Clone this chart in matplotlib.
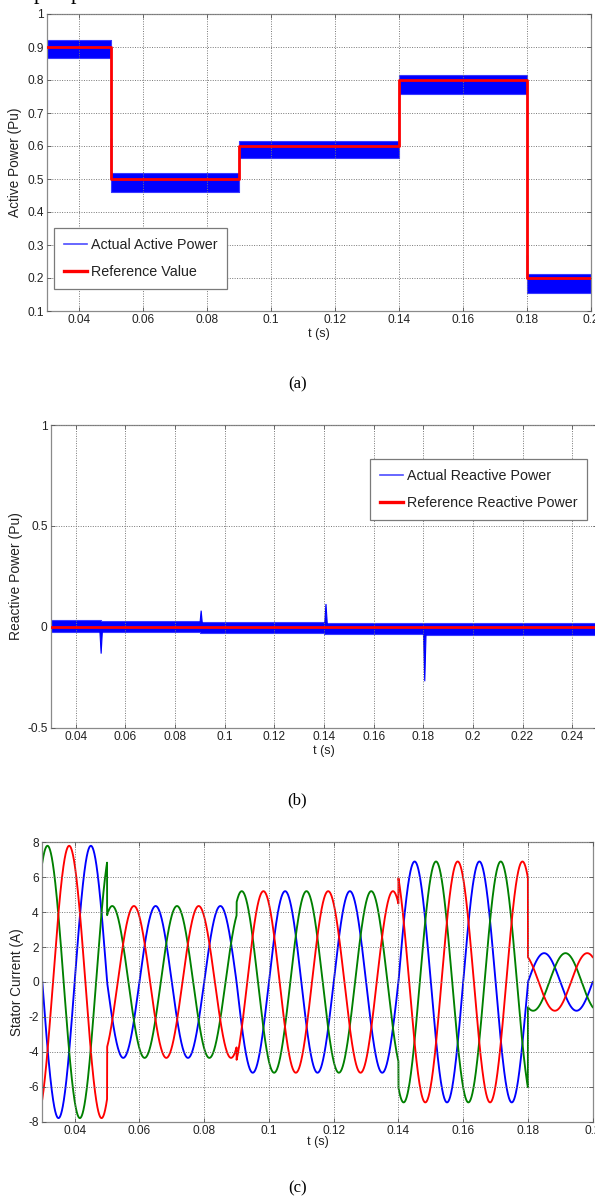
import matplotlib
matplotlib.use('Agg')
import matplotlib.pyplot as plt
import numpy as np
from matplotlib.lines import Line2D

plt.rcParams['font.family'] = ['Liberation Sans', 'DejaVu Sans']

# ---------------- data ----------------
# (a) active power
p_edges = [0.03, 0.05, 0.09, 0.14, 0.18, 0.20]
p_ref = [0.9, 0.5, 0.6, 0.8, 0.2]
p_low = [0.866, 0.460, 0.563, 0.757, 0.155]
p_high = [0.921, 0.518, 0.615, 0.815, 0.213]
p_spike_t = [0.0501, 0.1801]
p_spike_base = [0.50, 0.20]
p_spike_top = [0.625, 0.27]
p_xticks = [0.04, 0.06, 0.08, 0.10, 0.12, 0.14, 0.16, 0.18, 0.20]
p_xlabels = ['0.04', '0.06', '0.08', '0.1', '0.12', '0.14', '0.16', '0.18', '0.2']
p_yticks = [0.1, 0.2, 0.3, 0.4, 0.5, 0.6, 0.7, 0.8, 0.9, 1.0]
p_ylabels = ['0.1', '0.2', '0.3', '0.4', '0.5', '0.6', '0.7', '0.8', '0.9', '1']

# (b) reactive power
q_edges = [0.03, 0.05, 0.09, 0.14, 0.18, 0.25]
q_ref = [0.0, 0.0, 0.0, 0.0, 0.0]
q_low = [-0.024, -0.027, -0.032, -0.036, -0.040]
q_high = [0.032, 0.028, 0.024, 0.021, 0.019]
q_spike_t = [0.0502, 0.0905, 0.1408, 0.1806]
q_spike_v = [-0.133, 0.08, 0.113, -0.27]
q_xticks = [0.04, 0.06, 0.08, 0.10, 0.12, 0.14, 0.16, 0.18, 0.20, 0.22, 0.24]
q_xlabels = ['0.04', '0.06', '0.08', '0.1', '0.12', '0.14', '0.16', '0.18', '0.2', '0.22', '0.24']
q_yticks = [-0.5, 0.0, 0.5, 1.0]
q_ylabels = ['-0.5', '0', '0.5', '1']

# (c) stator currents (three phases, 50 Hz, amplitude per segment)
c_edges = [0.03, 0.05, 0.09, 0.14, 0.18, 0.20]
c_amp = [7.8, 4.35, 5.2, 6.9, 1.65]
c_freq = 50.0
c_peak_time = [0.0450, 0.0316, 0.0383]      # blue, green, red first peak
c_colors = ['#0000ff', '#008000', '#ff0000']
c_yticks = [-8, -6, -4, -2, 0, 2, 4, 6, 8]
c_ylabels = ['-8', '-6', '-4', '-2', '0', '2', '4', '6', '8']

# ---------------- style helpers ----------------
W, H = 595, 1200
fig = plt.figure(figsize=(W / 100, H / 100), dpi=100)


def px_axes(left, top, right, bottom):
    return fig.add_axes([left / W, 1 - bottom / H, (right - left) / W, (bottom - top) / H])


def style(ax):
    for s in ax.spines.values():
        s.set_color('#8a8a8a')
        s.set_linewidth(0.9)
    ax.tick_params(direction='in', length=3, width=0.6, color='#555555',
                   top=True, right=True, labelsize=8.6, labelcolor='#222222', pad=2.5)
    ax.grid(True, linestyle=(0, (1, 1.5)), color='#777777', linewidth=0.7)
    ax.set_axisbelow(False)


BLUE = '#0000ff'
RED = '#ff0000'
TICKC = '#222222'

# ---------------- (a) ----------------
axa = px_axes(47, 14, 591, 311)
style(axa)
axa.fill_between(p_edges, p_low + [p_low[-1]], p_high + [p_high[-1]], step='post',
                 color=BLUE, linewidth=0.8, edgecolor='#3a3aff', zorder=2)
axa.vlines(p_spike_t, p_spike_base, p_spike_top, color=BLUE, linewidth=1.0, zorder=2)
axa.step(p_edges, p_ref + [p_ref[-1]], where='post', color=RED, linewidth=2.0, zorder=3)
axa.set_xlim(0.03, 0.20)
axa.set_ylim(0.1, 1.0)
axa.set_xticks(p_xticks, p_xlabels)
axa.set_yticks(p_yticks, p_ylabels)
axa.set_xlabel('t (s)', fontsize=9, color=TICKC)
axa.set_ylabel('Active Power (Pu)', fontsize=9.8, color=TICKC)
axa.xaxis.set_label_coords(0.5, -0.056)
axa.yaxis.set_label_coords(-0.046, 0.5)
ha = [Line2D([], [], color='#4d4dff', lw=1.2), Line2D([], [], color=RED, lw=2.4)]
leg = axa.legend(ha, ['Actual Active Power', 'Reference Value'], loc='lower left',
                 bbox_to_anchor=(0.013, 0.074), borderaxespad=0, fontsize=10.3,
                 fancybox=False, framealpha=1, edgecolor='#7a7a7a', handlelength=1.6,
                 handletextpad=0.25, labelspacing=0.9, borderpad=0.7)
leg.get_frame().set_linewidth(0.9)
for tx in leg.get_texts():
    tx.set_color(TICKC)

# ---------------- (b) ----------------
axb = px_axes(51, 425, 597, 727.7)
style(axb)
axb.fill_between(q_edges, q_low + [q_low[-1]], q_high + [q_high[-1]], step='post',
                 color=BLUE, linewidth=0.8, edgecolor='#3a3aff', zorder=2)
sw = 0.0006
for ts, vs in zip(q_spike_t, q_spike_v):
    axb.fill([ts - sw, ts, ts + sw], [0, vs, 0], color=BLUE, linewidth=0.8, zorder=2)
axb.step(q_edges, q_ref + [q_ref[-1]], where='post', color=RED, linewidth=2.0, zorder=3)
axb.set_xlim(0.03, 0.25)
axb.set_ylim(-0.5, 1.0)
axb.set_xticks(q_xticks, q_xlabels)
axb.set_yticks(q_yticks, q_ylabels)
axb.set_xlabel('t (s)', fontsize=9, color=TICKC)
axb.set_ylabel('Reactive Power (Pu)', fontsize=10, color=TICKC)
axb.xaxis.set_label_coords(0.5, -0.058)
axb.yaxis.set_label_coords(-0.052, 0.5)
hb = [Line2D([], [], color='#4d4dff', lw=1.2), Line2D([], [], color=RED, lw=2.4)]
leg = axb.legend(hb, ['Actual Reactive Power', 'Reference Reactive Power'], loc='upper right',
                 bbox_to_anchor=(0.982, 0.888), borderaxespad=0, fontsize=10.3,
                 fancybox=False, framealpha=1, edgecolor='#7a7a7a', handlelength=1.6,
                 handletextpad=0.25, labelspacing=0.9, borderpad=0.7)
leg.get_frame().set_linewidth(0.9)
for tx in leg.get_texts():
    tx.set_color(TICKC)

# ---------------- (c) ----------------
axc = px_axes(42.3, 842.3, 592.7, 1121.6)
style(axc)
t = np.linspace(c_edges[0], c_edges[-1], 8000)
seg = np.clip(np.searchsorted(c_edges, t, side='right') - 1, 0, len(c_amp) - 1)
amp = np.array(c_amp)[seg]
for pk, col in zip(c_peak_time, c_colors):
    axc.plot(t, amp * np.cos(2 * np.pi * c_freq * (t - pk)), color=col, linewidth=1.35, zorder=2)
axc.set_xlim(0.03, 0.20)
axc.set_ylim(-8, 8)
axc.set_xticks(p_xticks, p_xlabels)
axc.set_yticks(c_yticks, c_ylabels)
axc.set_xlabel('t (s)', fontsize=9, color=TICKC)
axc.set_ylabel('Stator Current (A)', fontsize=9.8, color=TICKC)
axc.xaxis.set_label_coords(0.5, -0.05)
axc.yaxis.set_label_coords(-0.034, 0.5)

# ---------------- captions ----------------
serif = ['Liberation Serif', 'DejaVu Serif']
fig.text(0.5, 1 - 384 / H, '(a)', family=serif, fontsize=12, ha='center', va='center')
fig.text(0.5, 1 - 800 / H, '(b)', family=serif, fontsize=12, ha='center', va='center')
fig.text(0.5, 1 - 1188 / H, '(c)', family=serif, fontsize=12, ha='center', va='center')
# cut-off descenders of the text line above the figure
fig.text(34 / W, 1 + 1.5 / H, 'p', family=serif, fontsize=16, ha='left', va='baseline')
fig.text(71 / W, 1 + 1.5 / H, 'p', family=serif, fontsize=16, ha='left', va='baseline')

fig.savefig('out.png', dpi=100)
